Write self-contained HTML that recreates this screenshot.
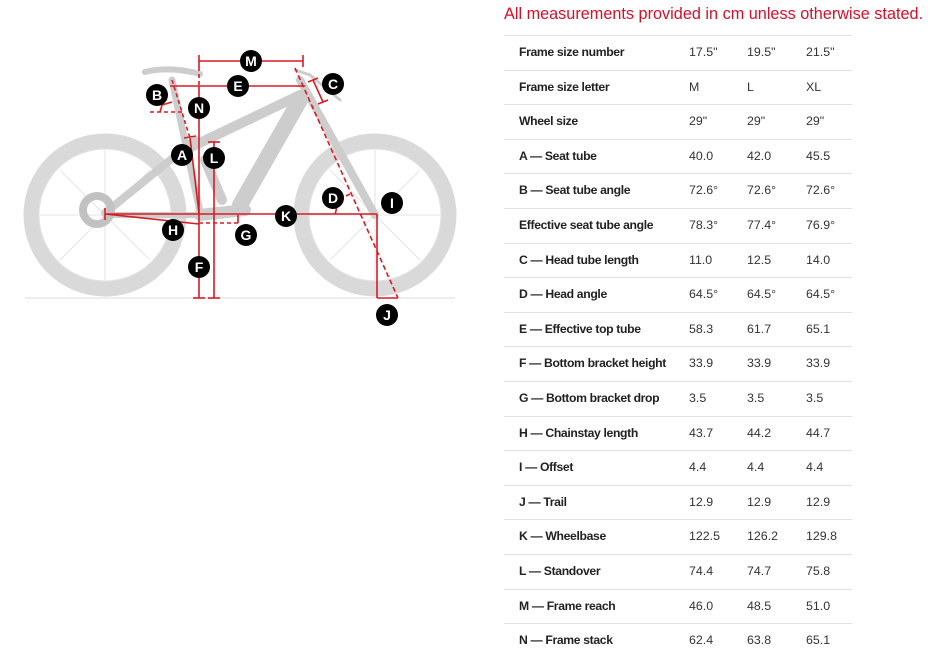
<!DOCTYPE html>
<html><head><meta charset="utf-8"><style>
*{margin:0;padding:0;box-sizing:border-box}
body{width:930px;height:650px;background:#fff;position:relative;overflow:hidden;font-family:"Liberation Sans",Arial,sans-serif}
.hdr{position:absolute;left:504px;top:5px;font-size:16.25px;color:#d0122c;white-space:nowrap}
.row{position:absolute;left:504px;width:348px;height:34.6px;border-top:1px solid #e2e2e2;font-size:12.4px;color:#333}
.row span{position:absolute;top:9px;white-space:nowrap}
.l{left:15px;font-weight:bold;color:#222;font-size:12.2px;letter-spacing:-0.35px}
.a{left:185px}.b{left:243px}.c{left:302px}
</style></head><body>
<svg width="470" height="330" style="position:absolute;left:0;top:0" xmlns="http://www.w3.org/2000/svg">
<g fill="none" stroke="#d9d9d9">
<circle cx="105" cy="215" r="74" stroke-width="15"/>
<circle cx="375" cy="215" r="74" stroke-width="15"/>
<circle cx="105" cy="215" r="66" stroke-width="1" stroke="#e0e0e0"/>
<circle cx="375" cy="215" r="66" stroke-width="1" stroke="#e0e0e0"/>
</g>
<g stroke="#e4e4e4" stroke-width="1">
<line x1="105" y1="150" x2="105" y2="280"/><line x1="40" y1="215" x2="170" y2="215"/>
<line x1="60" y1="170" x2="150" y2="260"/><line x1="150" y1="170" x2="60" y2="260"/>
<line x1="375" y1="150" x2="375" y2="280"/><line x1="310" y1="215" x2="440" y2="215"/>
<line x1="330" y1="170" x2="420" y2="260"/><line x1="420" y1="170" x2="330" y2="260"/>
</g>
<g stroke="#cdcdcd" stroke-linecap="round" fill="none">
<line x1="185" y1="150" x2="300" y2="95" stroke-width="10"/>
<line x1="300" y1="100" x2="240" y2="205" stroke-width="16"/>
<line x1="200" y1="215" x2="245" y2="210" stroke-width="12"/>
<line x1="105" y1="213" x2="195" y2="140" stroke-width="8"/>
<line x1="105" y1="215" x2="200" y2="215" stroke-width="6"/>
<line x1="172" y1="80" x2="200" y2="212" stroke-width="7"/>
<line x1="300" y1="80" x2="375" y2="215" stroke-width="8"/>
<line x1="205" y1="160" x2="222" y2="200" stroke-width="10"/>
<path d="M145 72 Q170 66 200 74" stroke-width="6"/>
<path d="M295 70 L310 75 L340 100" stroke-width="3"/>
<circle cx="97" cy="210" r="14" stroke-width="8" stroke="#c2c2c2"/>
</g>
<line x1="25" y1="298" x2="455" y2="298" stroke="#ddd" stroke-width="1"/>
<g stroke="#d71c24" stroke-width="1.6" fill="none">
<line x1="199" y1="61" x2="303" y2="61"/><line x1="199" y1="55" x2="199" y2="67"/><line x1="303" y1="55" x2="303" y2="67"/>
<line x1="199" y1="67" x2="199" y2="86" stroke-dasharray="4,3"/>
<line x1="170" y1="86" x2="305" y2="86"/>
<line x1="199" y1="86" x2="199" y2="298"/><line x1="193" y1="298" x2="205" y2="298"/>
<line x1="214" y1="142" x2="214" y2="298"/><line x1="208" y1="142" x2="220" y2="142"/><line x1="208" y1="298" x2="220" y2="298"/>
<line x1="172" y1="80" x2="190" y2="138" stroke-dasharray="4,3"/>
<line x1="190" y1="138" x2="199" y2="213"/><line x1="184" y1="138" x2="196" y2="136"/>
<line x1="105" y1="214" x2="377" y2="214"/><line x1="105" y1="208" x2="105" y2="220"/>
<line x1="105" y1="214" x2="199" y2="224"/>
<line x1="199" y1="223" x2="238" y2="223" stroke-dasharray="4,3"/><line x1="238" y1="215" x2="238" y2="223"/>
<line x1="295" y1="68" x2="398" y2="298" stroke-dasharray="5,3"/>
<line x1="377" y1="214" x2="377" y2="298"/><line x1="377" y1="298" x2="398" y2="298"/>
<line x1="313" y1="80" x2="323" y2="102"/><line x1="308" y1="82" x2="318" y2="78"/><line x1="318" y1="104" x2="328" y2="100"/>
<path d="M335 214 Q337 209 336 206"/><line x1="346" y1="196" x2="350" y2="194"/>
<line x1="150" y1="112" x2="182" y2="112" stroke-dasharray="4,3"/><path d="M160 112 L162 105 L172 102"/>
</g>
<g font-family="Liberation Sans,Arial,sans-serif" font-weight="bold" font-size="14" fill="#fff" text-anchor="middle">
<g><circle cx="251" cy="61" r="11" fill="#000"/><text x="251" y="66">M</text></g>
<g><circle cx="238" cy="86" r="11" fill="#000"/><text x="238" y="91">E</text></g>
<g><circle cx="333" cy="84" r="11" fill="#000"/><text x="333" y="89">C</text></g>
<g><circle cx="157" cy="95" r="11" fill="#000"/><text x="157" y="100">B</text></g>
<g><circle cx="199" cy="108" r="11" fill="#000"/><text x="199" y="113">N</text></g>
<g><circle cx="182" cy="155" r="11" fill="#000"/><text x="182" y="160">A</text></g>
<g><circle cx="214" cy="158" r="11" fill="#000"/><text x="214" y="163">L</text></g>
<g><circle cx="333" cy="198" r="11" fill="#000"/><text x="333" y="203">D</text></g>
<g><circle cx="392" cy="203" r="11" fill="#000"/><text x="392" y="208">I</text></g>
<g><circle cx="286" cy="216" r="11" fill="#000"/><text x="286" y="221">K</text></g>
<g><circle cx="173" cy="230" r="11" fill="#000"/><text x="173" y="235">H</text></g>
<g><circle cx="246" cy="235" r="11" fill="#000"/><text x="246" y="240">G</text></g>
<g><circle cx="199" cy="267" r="11" fill="#000"/><text x="199" y="272">F</text></g>
<g><circle cx="387" cy="315" r="11" fill="#000"/><text x="387" y="320">J</text></g>
</g>
</svg>
<div class="hdr">All measurements provided in cm unless otherwise stated.</div>
<div class="row" style="top:35px"><span class="l">Frame size number</span><span class="a">17.5"</span><span class="b">19.5"</span><span class="c">21.5"</span></div>
<div class="row" style="top:69.6px"><span class="l">Frame size letter</span><span class="a">M</span><span class="b">L</span><span class="c">XL</span></div>
<div class="row" style="top:104.2px"><span class="l">Wheel size</span><span class="a">29"</span><span class="b">29"</span><span class="c">29"</span></div>
<div class="row" style="top:138.8px"><span class="l">A — Seat tube</span><span class="a">40.0</span><span class="b">42.0</span><span class="c">45.5</span></div>
<div class="row" style="top:173.4px"><span class="l">B — Seat tube angle</span><span class="a">72.6°</span><span class="b">72.6°</span><span class="c">72.6°</span></div>
<div class="row" style="top:208px"><span class="l">Effective seat tube angle</span><span class="a">78.3°</span><span class="b">77.4°</span><span class="c">76.9°</span></div>
<div class="row" style="top:242.6px"><span class="l">C — Head tube length</span><span class="a">11.0</span><span class="b">12.5</span><span class="c">14.0</span></div>
<div class="row" style="top:277.2px"><span class="l">D — Head angle</span><span class="a">64.5°</span><span class="b">64.5°</span><span class="c">64.5°</span></div>
<div class="row" style="top:311.8px"><span class="l">E — Effective top tube</span><span class="a">58.3</span><span class="b">61.7</span><span class="c">65.1</span></div>
<div class="row" style="top:346.4px"><span class="l">F — Bottom bracket height</span><span class="a">33.9</span><span class="b">33.9</span><span class="c">33.9</span></div>
<div class="row" style="top:381px"><span class="l">G — Bottom bracket drop</span><span class="a">3.5</span><span class="b">3.5</span><span class="c">3.5</span></div>
<div class="row" style="top:415.6px"><span class="l">H — Chainstay length</span><span class="a">43.7</span><span class="b">44.2</span><span class="c">44.7</span></div>
<div class="row" style="top:450.2px"><span class="l">I — Offset</span><span class="a">4.4</span><span class="b">4.4</span><span class="c">4.4</span></div>
<div class="row" style="top:484.8px"><span class="l">J — Trail</span><span class="a">12.9</span><span class="b">12.9</span><span class="c">12.9</span></div>
<div class="row" style="top:519.4px"><span class="l">K — Wheelbase</span><span class="a">122.5</span><span class="b">126.2</span><span class="c">129.8</span></div>
<div class="row" style="top:554px"><span class="l">L — Standover</span><span class="a">74.4</span><span class="b">74.7</span><span class="c">75.8</span></div>
<div class="row" style="top:588.6px"><span class="l">M — Frame reach</span><span class="a">46.0</span><span class="b">48.5</span><span class="c">51.0</span></div>
<div class="row" style="top:623.2px"><span class="l">N — Frame stack</span><span class="a">62.4</span><span class="b">63.8</span><span class="c">65.1</span></div>
</body></html>
